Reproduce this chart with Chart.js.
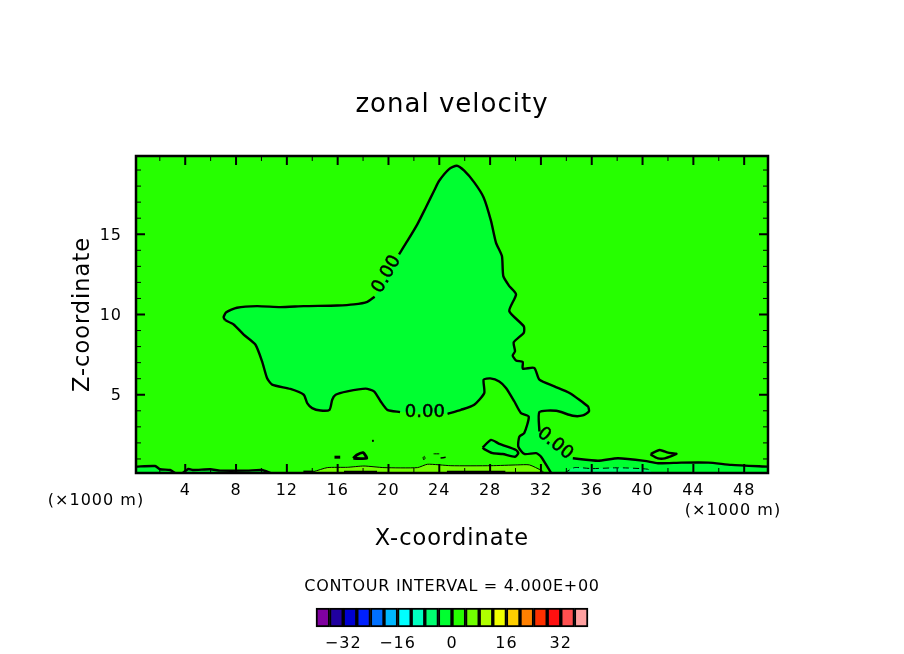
<!DOCTYPE html>
<html>
<head>
<meta charset="utf-8">
<title>zonal velocity</title>
<script src="https://cdn.jsdelivr.net/npm/chart.js@4/dist/chart.umd.min.js"></script>
<style>
  html, body { margin: 0; padding: 0; background: #fff; }
  #wrap { position: relative; width: 904px; height: 654px; overflow: hidden; }
  canvas { position: absolute; left: 0; }
  #plot { top: 0; }
  #bar { top: 570px; }
</style>
</head>
<body>
<div id="wrap">
  <canvas id="plot" width="904" height="654"></canvas>
  <canvas id="bar" width="904" height="84"></canvas>
</div>
<script>
const xTicks = [2, 4, 6, 8, 10, 12, 14, 16, 18, 20, 22, 24, 26, 28, 30, 32, 34, 36, 38, 40, 42, 44, 46, 48];
const xLabelled = [4, 8, 12, 16, 20, 24, 28, 32, 36, 40, 44, 48];
const zTicks = [1, 2, 3, 4, 5, 6, 7, 8, 9, 10, 11, 12, 13, 14, 15, 16, 17, 18, 19];
const zLabelled = [5, 10, 15];
const domain = [[0.125, 0.125], [49.875, 0.125], [49.875, 19.875], [0.125, 19.875]];

// zero contour, broken where its labels sit
const zeroTop = [[7.15, 9.64], [7.02, 9.83], [7.23, 10.14], [8.07, 10.42], [9.65, 10.52], [11.49, 10.46], [13.33, 10.52], [15.97, 10.56], [17.28, 10.63], [18.33, 10.79], [18.91, 11.11]];
const zeroRight = [[20.83, 13.75], [21.49, 14.58], [22.28, 15.63], [22.94, 16.67], [23.59, 17.71], [23.99, 18.33], [24.77, 19.06], [25.38, 19.27], [25.96, 18.96], [26.75, 18.23], [27.49, 17.29], [28.07, 15.83], [28.46, 14.48], [28.93, 13.64], [29.04, 12.39], [29.51, 11.77], [30.04, 11.25], [29.51, 10.21], [30.65, 9.27], [30.65, 8.86], [29.86, 8.27], [29.96, 7.71], [29.78, 7.44], [30.04, 7.14], [30.57, 7.04], [30.57, 6.63], [31.48, 6.67], [31.88, 5.94], [33.06, 5.52], [34.25, 5.11], [35.7, 4.27], [35.78, 3.96], [35.3, 3.71], [34.51, 3.69], [33.2, 4.0], [31.88, 3.92], [31.88, 2.71]];
const zeroTail = [[34.51, 1.04], [36.49, 0.89], [38.07, 1.04], [40.17, 0.88], [41.22, 0.73], [43.06, 0.77], [45.17, 0.77], [47.0, 0.63], [49.875, 0.52]];
const zeroStem = [[32.8, 0.125], [32.01, 1.14], [31.62, 1.36], [30.69, 1.31], [30.22, 1.77], [30.3, 2.39], [30.69, 2.61], [31.04, 3.64], [30.43, 3.86], [29.91, 4.58], [29.25, 5.42], [28.72, 5.83], [28.01, 6.02], [27.49, 5.94], [27.54, 5.11], [26.75, 4.38], [25.7, 4.06], [24.65, 3.81]];
const zeroBelly = [[20.91, 3.92], [19.91, 4.06], [19.39, 4.58], [18.86, 5.21], [18.2, 5.38], [16.76, 5.21], [15.84, 5.0], [15.57, 4.69], [15.36, 4.06], [14.65, 4.02], [13.99, 4.17], [13.6, 4.48], [13.33, 5.0], [12.28, 5.36], [10.84, 5.63], [10.44, 6.04], [10.05, 7.08], [9.52, 8.13], [8.6, 8.75], [7.81, 9.38], [7.15, 9.64]];
const cornerRight = [[49.875, 0.125], [32.8, 0.125]];

const islandMid = [[27.41, 1.71], [28.07, 2.19], [28.72, 1.94], [30.04, 1.56], [30.22, 1.36], [29.96, 1.14], [28.99, 1.31], [28.2, 1.36], [27.54, 1.61], [27.41, 1.71]];
const islandEast = [[40.64, 1.31], [41.35, 1.56], [42.01, 1.39], [42.67, 1.31], [41.75, 1.04], [41.22, 1.04], [40.69, 1.25], [40.64, 1.31]];
const speckA = [[15.75, 1.11], [16.2, 1.11]];
const speckB = [[17.23, 1.04], [18.28, 1.04], [18.0, 1.39], [17.5, 1.25], [17.23, 1.04]];
const speckC = [[18.7, 2.13], [18.85, 2.13]];
const speckD = [[22.78, 0.95], [22.72, 1.08], [22.82, 1.16], [22.88, 1.04], [22.78, 0.95]];
const speckE = [[23.55, 1.32], [24.0, 1.32]];
const speckF = [[24.1, 1.06], [24.5, 1.1]];

// thick zero contour hugging the ground on the left
const groundWest = [[0.125, 0.52], [1.63, 0.56], [2.02, 0.36], [2.81, 0.31], [3.2, 0.125]];
const groundMid = [[3.8, 0.125], [4.25, 0.375], [4.65, 0.31], [5.97, 0.36], [6.76, 0.27], [8.86, 0.27], [10.05, 0.31], [10.7, 0.125]];
const groundBandA = [[13.3, 0.2], [14.1, 0.2]];
const groundBandB = [[16.5, 0.17], [19.1, 0.17]];
const groundBandC = [[24.6, 0.17], [29.2, 0.17]];
const groundWestFill = [[0.125, 0.125], [0.125, 0.52], [1.63, 0.56], [2.02, 0.36], [2.81, 0.31], [3.2, 0.125]];
const groundMidFill = [[3.8, 0.125], [4.25, 0.375], [4.65, 0.31], [5.97, 0.36], [6.76, 0.27], [8.86, 0.27], [10.05, 0.31], [10.7, 0.125]];

// +4 and -4 contours
const plusFour = [[13.33, 0.125], [14.1, 0.21], [15.18, 0.46], [16.76, 0.48], [18.07, 0.56], [19.65, 0.46], [22.28, 0.46], [23.07, 0.67], [24.91, 0.58], [28.07, 0.58], [30.17, 0.63], [31.09, 0.63], [32.07, 0.27], [32.27, 0.125]];
const minusFour = [[33.85, 0.125], [34.64, 0.46], [36.0, 0.4], [38.1, 0.45], [40.4, 0.36], [40.8, 0.125]];

const contourLabels = ["0.00", "0.00", "0.00"];
const labelX = [19.86, 22.86, 33.1];
const labelZ = [12.5, 3.88, 1.95];
const labelAngle = [-60, 0, 39];

const levelColours = ["#8000a0", "#2000a0", "#0000d0", "#0020ff", "#0070ff", "#00b8ff", "#00ffff", "#00ffc0", "#00ff70", "#00ff30", "#26ff00", "#70ff00", "#b0ff00", "#f0ff00", "#ffd000", "#ff8000", "#ff3000", "#ff1010", "#ff5050", "#ffa0a0"];
const levelEdges = [-40, -36, -32, -28, -24, -20, -16, -12, -8, -4, 0, 4, 8, 12, 16, 20, 24, 28, 32, 36, 40];
const barTicks = [-32, -16, 0, 16, 32];

// ——— helpers ———
const FONT = '"DejaVu Sans", sans-serif';
const toXY = (pts) => pts.map(([x, y]) => ({ x, y }));

function area(pts, colour) {
    return { data: toXY(pts), showLine: true, borderWidth: 0, pointRadius: 0, fill: "shape", tension: 0.2, backgroundColor: colour, borderColor: colour };
}
function contour(pts, width, dash) {
    return { data: toXY(pts), showLine: true, borderWidth: width, borderDash: dash || [], pointRadius: 0, fill: false, tension: 0.2, borderColor: "#000" };
}

const spacing = {
    id: "spacing",
    beforeLayout: (c) => { c.ctx.letterSpacing = "1px"; },
    beforeDraw: (c) => { c.ctx.letterSpacing = "1px"; },
};

// frame and inward ticks on all four sides, plus the labels on the zero line
const frame = {
    id: "frame",
    afterDatasetsDraw(c) {
        const { ctx, chartArea: a, scales } = c;
        ctx.save();
        ctx.strokeStyle = "#000";
        xTicks.forEach((v) => {
            const px = scales.x.getPixelForValue(v);
            const big = xLabelled.includes(v);
            ctx.lineWidth = big ? 2 : 1;
            const len = big ? 9 : 5;
            ctx.beginPath();
            ctx.moveTo(px, a.bottom); ctx.lineTo(px, a.bottom - len);
            ctx.moveTo(px, a.top); ctx.lineTo(px, a.top + len);
            ctx.stroke();
        });
        zTicks.forEach((v) => {
            const py = scales.y.getPixelForValue(v);
            const big = zLabelled.includes(v);
            ctx.lineWidth = big ? 2 : 1;
            const len = big ? 9 : 5;
            ctx.beginPath();
            ctx.moveTo(a.left, py); ctx.lineTo(a.left + len, py);
            ctx.moveTo(a.right, py); ctx.lineTo(a.right - len, py);
            ctx.stroke();
        });
        ctx.lineWidth = 2.5;
        ctx.strokeRect(a.left, a.top, a.right - a.left, a.bottom - a.top);

        ctx.fillStyle = "#000";
        ctx.font = "18px " + FONT;
        ctx.letterSpacing = "0px";
        ctx.lineWidth = 0.5;
        ctx.textAlign = "center";
        ctx.textBaseline = "middle";
        contourLabels.forEach((txt, i) => {
            ctx.save();
            ctx.translate(scales.x.getPixelForValue(labelX[i]), scales.y.getPixelForValue(labelZ[i]));
            ctx.rotate(labelAngle[i] * Math.PI / 180);
            ctx.fillText(txt, 0, 0);
            ctx.strokeText(txt, 0, 0);
            ctx.restore();
        });
        ctx.letterSpacing = "1px";

        // units notes next to the x axis
        ctx.font = "16px " + FONT;
        ctx.textBaseline = "middle";
        ctx.fillText("(×1000 m)", 96, 501);
        ctx.fillText("(×1000 m)", 733, 511);
        ctx.restore();
    },
};

// Title plugin would squeeze this into the key's width, so draw it by hand
const keyCaption = {
    id: "keyCaption",
    afterDraw(c) {
        const { ctx } = c;
        ctx.save();
        ctx.fillStyle = "#000";
        ctx.font = "16px " + FONT;
        ctx.letterSpacing = "0.7px";
        ctx.textAlign = "center";
        ctx.textBaseline = "middle";
        ctx.fillText("CONTOUR INTERVAL = 4.000E+00", 452, 17);
        ctx.restore();
    },
};

// ——— main plot ———
new Chart(document.getElementById("plot"), {
    type: "scatter",
    plugins: [spacing, frame],
    data: {
        datasets: [
            contour(zeroTop, 2.4),
            contour(zeroRight, 2.4),
            contour(zeroTail, 2.4),
            contour(zeroStem, 2.4),
            contour(zeroBelly, 2.4),
            contour(islandMid, 2.4),
            contour(islandEast, 2.4),
            contour(speckA, 3),
            contour(speckB, 3),
            contour(speckC, 2),
            contour(speckD, 1),
            contour(speckE, 1),
            contour(speckF, 1.5),
            contour(groundWest, 2.4),
            contour(groundMid, 2.4),
            contour(groundBandA, 2.4),
            contour(groundBandB, 3),
            contour(groundBandC, 3),
            contour(plusFour, 1),
            contour(minusFour, 1, [6, 4]),
            area(minusFour, "#00ff70"),
            area(plusFour, "#70ff00"),
            area(islandMid, "#00ff30"),
            area(groundMidFill, "#00ff30"),
            area(groundWestFill, "#00ff30"),
            area([...zeroTop, ...zeroRight, ...zeroTail, ...cornerRight, ...zeroStem, ...zeroBelly], "#00ff30"),
            area(domain, "#26ff00"),
        ],
    },
    options: {
        responsive: false,
        animation: false,
        devicePixelRatio: 1,
        layout: { padding: { left: 0, right: 136, top: 0, bottom: 0 } },
        plugins: {
            legend: { display: false },
            tooltip: { enabled: false },
            title: {
                display: true,
                text: "zonal velocity",
                fullSize: false,
                color: "#000",
                font: { family: FONT, size: 26, weight: "normal", lineHeight: 1 },
                padding: { top: 92, bottom: 38 },
            },
        },
        scales: {
            x: {
                type: "linear",
                min: 0.125,
                max: 49.875,
                afterFit: (s) => { s.height = 181; },
                afterBuildTicks: (s) => { s.ticks = xLabelled.map((value) => ({ value })); },
                grid: { display: false, drawTicks: false },
                border: { display: false },
                ticks: { color: "#000", padding: 8, autoSkip: false, maxRotation: 0, font: { family: FONT, size: 16 }, callback: (v) => String(v) },
                title: { display: true, text: "X-coordinate", color: "#000", font: { family: FONT, size: 22.5, lineHeight: 1 }, padding: { top: 0, bottom: 104 } },
            },
            y: {
                type: "linear",
                min: 0.125,
                max: 19.875,
                afterFit: (s) => { s.width = 136; },
                afterBuildTicks: (s) => { s.ticks = zLabelled.map((value) => ({ value })); },
                grid: { display: false, drawTicks: false },
                border: { display: false },
                ticks: { color: "#000", padding: 14, labelOffset: 1.5, font: { family: FONT, size: 16 }, callback: (v) => String(v) },
                title: { display: true, text: "Z-coordinate", color: "#000", font: { family: FONT, size: 22.5, lineHeight: 1 }, padding: { top: 72, bottom: 0 } },
            },
        },
    },
});

// ——— colour key ———
new Chart(document.getElementById("bar"), {
    type: "bar",
    plugins: [spacing, keyCaption],
    data: {
        labels: ["levels"],
        datasets: levelColours.map((colour, i) => ({
            data: [[levelEdges[i], levelEdges[i + 1]]],
            backgroundColor: colour,
            borderColor: "#000",
            borderWidth: 2,
            borderSkipped: false,
            grouped: false,
            barPercentage: 1,
            categoryPercentage: 1,
            clip: false,
        })),
    },
    options: {
        indexAxis: "y",
        responsive: false,
        animation: false,
        devicePixelRatio: 1,
        layout: { padding: { left: 316, right: 316, top: 38, bottom: 0 } },
        plugins: {
            legend: { display: false },
            tooltip: { enabled: false },
        },
        scales: {
            x: {
                type: "linear",
                min: -40,
                max: 40,
                afterFit: (s) => { s.height = 27; },
                afterBuildTicks: (s) => { s.ticks = barTicks.map((value) => ({ value })); },
                grid: { display: false, drawTicks: false },
                border: { display: false },
                ticks: { color: "#000", padding: 7, autoSkip: false, maxRotation: 0, font: { family: FONT, size: 16 }, callback: (v) => String(v).replace("-", "\u2212") },
            },
            y: { display: false },
        },
    },
});
</script>
</body>
</html>
